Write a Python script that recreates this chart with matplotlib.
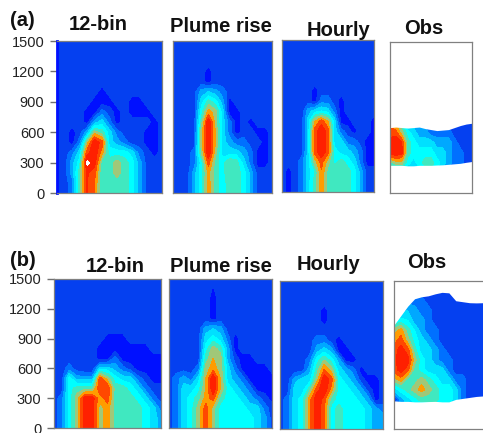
import numpy as np
import matplotlib
matplotlib.use("Agg")
import matplotlib.pyplot as plt

plt.rcParams['font.family'] = ['Liberation Sans', 'DejaVu Sans']

heights_step = 100
yticks = [0, 300, 600, 900, 1200, 1500]
panel_names = ["12-bin", "Plume rise", "Hourly", "Obs"]

# category index of each plume concentration, rows start at 0 m and go up in 100 m steps
a_12bin = [
 [0,0,1,5,8.6,7.5,4.5,5,5,5,4,2,0,0,0],
 [0,0,1,5,8.6,7.5,4.5,5,5,5,4,2,0,0,0],
 [0,0,2,5,8.6,8,4.5,5,6,5,4,2,0,0,0],
 [0,0,2,4,9.8,9,5,5,6,5,4,2,0,0,0],
 [0,0,1,3,8,9.4,7,4,4,4,3,1,0,-1,0],
 [0,0,-1,1,6,9.4,8,3,2,1,0,0,-1,-1,0],
 [0,0,-1,0,2,6,5,3,1,0,0,0,-1,-1,0],
 [0,0,0,0,-1,2,3,1,-1,0,0,0,0,-1,0],
 [0,0,0,0,-1,-1,1,0,-1,0,-1,-1,-1,0,0],
 [0,0,0,0,0,-1,-1,-1,0,0,-1,-1,0,0,0],
 [0,0,0,0,0,0,-1,0,0,0,0,0,0,0,0],
]
a_plume = [
 [0,0,0,2,4,7,5,4,5,5,4,2,0,0,0],
 [0,0,0,2,4,7,5,4,5,5,4,2,0,0,0],
 [0,0,0,2,4,6.8,5,4,5.5,5,4,2,0,0,0],
 [0,0,0,1,4,8,5,4,5.5,5,3,1,-1,-1,0],
 [0,0,0,1,5.5,9.4,6,3,3,3,2,1,-1,-1,0],
 [0,0,0,0,6,9.4,6.5,3,2,1,1,0,0,-1,0],
 [0,0,0,0,6,9.4,6.5,3,1,-1,0,0,-1,-1,0],
 [0,0,0,0,5,9.4,6,3,1,-1,0,-1,0,0,0],
 [0,0,0,0,4,7,6,3,-1,-1,0,0,0,0,0],
 [0,0,0,0,3,5,4,2,-1,0,0,0,0,0,0],
 [0,0,0,0,2,2.5,2,1,0,0,0,0,0,0,0],
 [0,0,0,0,0,-1,0,0,0,0,0,0,0,0,0],
 [0,0,0,0,0,-1,0,0,0,0,0,0,0,0,0],
]
a_hourly = [
 [0,-1,0,1,3,5,7,5,5,5,5,4,2,0,0],
 [0,-1,0,1,3,5,7,5,5,5,5,4,2,0,0],
 [0,-1,0,1,3,4.5,7.4,5,5.5,5,5,4,2,0,0],
 [0,0,0,1,3,6,8,6,4,5,4,3,1,-1,-1],
 [0,0,0,0,3,8,9.4,8,4,3,3,2,1,-1,-1],
 [0,0,0,0,3,8,9.4,8,3,3,1,1,0,-1,-1],
 [0,0,0,0,3,8,9.4,8,3,1,0,-1,0,0,-1],
 [0,0,0,0,3,6.5,8,6.5,3,-1,-1,0,0,0,-1],
 [0,0,0,0,2,3,3.5,3,1,-1,0,0,0,0,0],
 [0,0,0,0,0,-1,1,1,0,-1,0,0,0,0,0],
 [0,0,0,0,0,-1,0,0,0,0,0,0,0,0,0],
]
a_obs = [
 [3,3,3,2,2,3,3,4,3,2,1,1,0,0,0],
 [3,3,3,2,2,3,3,4,3,2,1,1,0,0,0],
 [3,3,3,2,2,3,3,4,3,2,1,1,0,0,0],
 [5,6,6,4,3,4,5,5,4,3,2,1,1,0,0],
 [9,9.4,9,5,4,4,4,4,3,3,2,1,1,0,0],
 [9,9.4,8.5,5,4,3,3,3,2,2,2,1,0,0,0],
 [8,8,6,4,3,2,2,1,1,1,1,0,0,0,0],
 [7,6,4,2,2,1,1,1,0,0,0,0,0,0,0],
]
a_obs_top = [650,655,650,645,650,655,640,630,620,625,630,650,670,685,693]
a_obs_bottom = [275,275,275,270,270,275,275,275,278,280,285,290,295,305,313]

b_12bin = [
 [0,1,4,6,9,9,6,7,5,5,5,5,4,3,2],
 [0,1,4,6,9,9,6,7,5,5,5,5,4,3,2],
 [0,1,4,6,9,9,6,7,5,5,5,5,4,3,1],
 [0,1,4,6,9,9,7,8,5,5,5,4,3,1,0],
 [0,0,4,5,5,5,8.5,8.5,5,5,4,3,1,0,0],
 [0,0,4,2,2,2,8,6,4,3,3,1,0,-1,-1],
 [0,0,1,0,-0.4,-0.4,3,3,2,1,0,-1,-1,-1,-1],
 [0,0,0,0,0,0,-1,-1,1,-1,-1,-1,-1,-1,-1],
 [0,0,0,0,0,0,-1,-1,-1,-1,-1,-1,-1,0,0],
 [0,0,0,0,0,0,0,-1,-1,-1,0,0,0,0,0],
]
b_plume = [
 [0,1,3,4,6,8,6,4,4,4,4,4,3,2,0],
 [0,1,3,4,6,8,6,4,4,4,4,4,3,2,0],
 [0,1,3,4,6,8,6,4,4,4,4,3,3,1,0],
 [0,1,3,4,5,7,8,5,4,4,3,2,1,0,-1],
 [0,1,3,3,4,6.5,9.4,6.5,4,3,2,1,-1,-1,-1],
 [0,1,2,1,3,6.5,9.4,6.5,3,2,1,-1,-1,-1,-1],
 [0,0,0,0,1,6,7,6,3,1,-1,-1,-1,-1,0],
 [0,0,0,0,0,5,6.5,6,2,0,-1,-1,0,0,0],
 [0,0,0,0,0,4,6,5,2,-1,0,0,0,0,0],
 [0,0,0,0,0,3,4,3,1,-1,0,0,0,0,0],
 [0,0,0,0,0,2,2.5,2,0,0,0,0,0,0,0],
 [0,0,0,0,0,0,-1,0,0,0,0,0,0,0,0],
 [0,0,0,0,0,0,-1,0,0,0,0,0,0,0,0],
 [0,0,0,0,0,0,-1,0,0,0,0,0,0,0,0],
 [0,0,0,0,0,0,-0.6,0,0,0,0,0,0,0,0],
]
b_hourly = [
 [0,1,3,4,7,9.4,7.5,4,5,4,4,4,3,2,2],
 [0,1,3,4,7,9.4,7.5,4,5,4,4,4,3,2,2],
 [0,1,3,4,7,9.4,7.5,4,5,4,4,4,3,2,1],
 [0,1,3,4,7,9.4,8,5,4,4,4,3,2,-1,0],
 [0,0,3,3,5,8,9.4,7,4,4,3,2,0,-1,0],
 [0,0,2,3,3,6,9.4,8,4,3,2,0,-1,-1,0],
 [0,0,0,0,2,5,7.6,6,3,2,1,-1,0,0,0],
 [0,0,0,0,1,4,5.5,4,2,-1,-1,0,0,0,0],
 [0,0,0,0,0,2,3,2,-1,-1,0,0,0,0,0],
 [0,0,0,0,0,1,1,0,-1,0,0,0,0,0,0],
 [0,0,0,0,0,0,0,0,0,0,0,0,0,0,0],
 [0,0,0,0,0,0,-1,0,0,0,0,0,0,0,0],
 [0,0,0,0,0,0,-1,0,0,0,0,0,0,0,0],
]
b_obs = [
 [1,2,3,3,3,3,3,3,3,2,1,0,0,0,0],
 [1,2,3,3,3,3,3,3,3,2,1,0,0,0,0],
 [1,2,3,3,3,3,3,3,3,2,1,0,0,0,0],
 [-1,2,3,4,5,5,5,4,4,3,1,0,0,0,0],
 [3,4,5,6,7,6,5,4,4,3,1,0,0,0,0],
 [6,7,5,5,6,5,4,3,3,1,1,0,0,0,0],
 [8,9,8,5,4,3,3,3,1,0,0,0,0,0,0],
 [8,9.4,9,6,4,3,2,1,1,0,0,0,0,0,0],
 [8,9,8,5,3,3,2,1,0,0,0,0,0,0,0],
 [7,8,6,4,3,2,1,0,0,0,0,0,0,0,0],
 [6,7,5,3.5,2,1,1,0,0,0,0,0,0,0,0],
 [3.5,4,3.5,2,2,1,0,0,0,0,0,0,0,0,0],
 [1,2,2.5,2,1,1,0,0,0,0,0,0,0,0,0],
 [0,0,1,1,1,0,0,0,0,0,0,0,0,0,0],
]
b_obs_top = [1055,1150,1245,1320,1340,1350,1370,1385,1380,1300,1290,1280,1278,1280,1285]
b_obs_bottom = [285,280,280,275,275,278,280,275,275,300,310,320,330,335,340]

level_colors = ['#0010ff', '#0540f0', '#0070ff', '#00a8ff', '#00e0ff', '#00ffff',
                '#40e8c0', '#a0c878', '#ff9c00', '#ff4800', '#ff2000', '#ffffff']
level_edges = [-2, -0.5, 0.5, 1.5, 2.5, 3.5, 4.5, 5.5, 6.5, 7.5, 8.5, 9.5, 11]

W, H = 483, 433
fig = plt.figure(figsize=(W / 100, H / 100), dpi=100)


def add_panel(left, right, top, bottom, rows, obs_top=None, obs_bottom=None, axis=False, border='#808080'):
    ax = fig.add_axes([left / W, 1 - bottom / H, (right - left) / W, (bottom - top) / H])
    z = np.array(rows, dtype=float)
    full = np.zeros((16, z.shape[1]))
    full[:z.shape[0]] = z
    x = np.arange(full.shape[1])
    y = np.arange(16) * heights_step
    ax.contourf(x, y, full, levels=level_edges, colors=level_colors)
    ax.set_xlim(0, x[-1])
    ax.set_ylim(0, 1500)
    ax.set_xticks([])
    if obs_top is not None:
        ax.fill_between(x, obs_top, 1500, color='white', lw=0, zorder=3)
        ax.fill_between(x, 0, obs_bottom, color='white', lw=0, zorder=3)
    if axis:
        ax.set_yticks(yticks)
        ax.tick_params(axis='y', length=5, width=1, color='#707070', labelsize=10.5,
                       labelcolor='#222222', pad=4)
    else:
        ax.set_yticks([])
    for s in ax.spines.values():
        s.set_color(border)
        s.set_linewidth(0.9)
        s.set_zorder(5)
    return ax


ax_a = add_panel(57, 162, 41, 193, a_12bin, axis=True)
ax_a.spines['left'].set_color('#0010ff')
ax_a.spines['left'].set_linewidth(2)
add_panel(173, 272, 41, 193, a_plume)
add_panel(282, 374, 40, 192, a_hourly)
add_panel(390, 472, 42, 193, a_obs, a_obs_top, a_obs_bottom)
add_panel(54, 161, 279, 428, b_12bin, axis=True)
add_panel(169, 272, 279, 428, b_plume)
add_panel(280, 383, 281, 429, b_hourly)
add_panel(394, 490, 281, 429, b_obs, b_obs_top, b_obs_bottom)

title_size = 14.5
labels = [("(a)", 22, 21), (panel_names[0], 98, 25), (panel_names[1], 221, 27),
          (panel_names[2], 339, 30), (panel_names[3], 424, 29),
          ("(b)", 23, 260), (panel_names[0], 115, 266), (panel_names[1], 221, 266),
          (panel_names[2], 328, 265), (panel_names[3], 427, 263)]
for text, px, py in labels:
    fig.text(px / W, 1 - py / H, text, ha='center', va='center', fontsize=title_size,
             fontweight='bold', color='#111111')

fig.savefig("out.png", dpi=100)
